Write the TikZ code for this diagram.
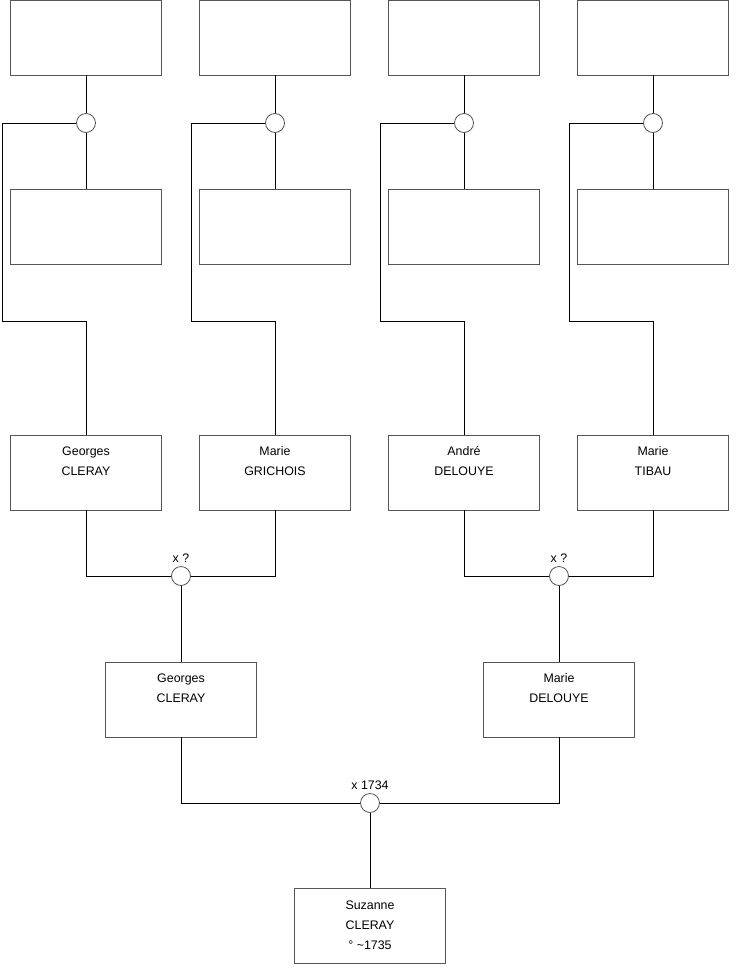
\documentclass[tikz,border=0pt]{standalone}
\usepackage{fontspec}
\setmainfont{Liberation Sans}
\definecolor{Frame}{HTML}{555555}
\newcommand{\names}[1]{\parbox[t]{140pt}{\centering #1}}

\begin{document}
\begin{tikzpicture}[x=1pt,y=-1pt,font=\fontsize{12.4}{20}\selectfont,line width=0.8pt,
  person/.style={draw=Frame,fill=white,minimum width=151pt,minimum height=75pt,inner sep=0pt},
  union/.style={draw=Frame,fill=white,circle,minimum size=19pt,inner sep=0pt},
  who/.style={anchor=base,yshift=-21pt,inner sep=0pt}]
  \useasboundingbox (0,0) rectangle (740,975);
  % top generation
  \node[person] (t1) at (86,37.5) {};
  \node[person] (t2) at (275,37.5) {};
  \node[person] (t3) at (464,37.5) {};
  \node[person] (t4) at (653,37.5) {};
  \node[person] (p1) at (86,226.5) {};
  \node[person] (p2) at (275,226.5) {};
  \node[person] (p3) at (464,226.5) {};
  \node[person] (p4) at (653,226.5) {};
  \node[union] (m1) at (86,123) {};
  \node[union] (m2) at (275,123) {};
  \node[union] (m3) at (464,123) {};
  \node[union] (m4) at (653,123) {};
  % grand parents
  \node[person,label={[who]north:\names{Georges\\CLERAY}}] (g1) at (86,472.5) {};
  \node[person,label={[who]north:\names{Marie\\GRICHOIS}}] (g2) at (275,472.5) {};
  \node[person,label={[who]north:\names{André\\DELOUYE}}] (g3) at (464,472.5) {};
  \node[person,label={[who]north:\names{Marie\\TIBAU}}] (g4) at (653,472.5) {};
  \node[union,label={above:x ?}] (c1) at (181,576) {};
  \node[union,label={above:x ?}] (c2) at (559,576) {};
  % parents
  \node[person,label={[who]north:\names{Georges\\CLERAY}}] (f1) at (181,699.5) {};
  \node[person,label={[who]north:\names{Marie\\DELOUYE}}] (f2) at (559,699.5) {};
  \node[union,label={above:x 1734}] (c3) at (370,803) {};
  \node[person,label={[who]north:\names{Suzanne\\CLERAY\\° \textasciitilde1735}}] (s) at (370,926) {};
  % bends
  \coordinate (k1) at (2,321);
  \coordinate (k2) at (191,321);
  \coordinate (k3) at (380,321);
  \coordinate (k4) at (569,321);
  % links
  \draw (t1)--(m1)--(p1); \draw (m1) -| (k1) -| (g1);
  \draw (t2)--(m2)--(p2); \draw (m2) -| (k2) -| (g2);
  \draw (t3)--(m3)--(p3); \draw (m3) -| (k3) -| (g3);
  \draw (t4)--(m4)--(p4); \draw (m4) -| (k4) -| (g4);
  \draw (g1) |- (c1) -| (g2); \draw (c1)--(f1);
  \draw (g3) |- (c2) -| (g4); \draw (c2)--(f2);
  \draw (f1) |- (c3) -| (f2); \draw (c3)--(s);
\end{tikzpicture}
\end{document}
